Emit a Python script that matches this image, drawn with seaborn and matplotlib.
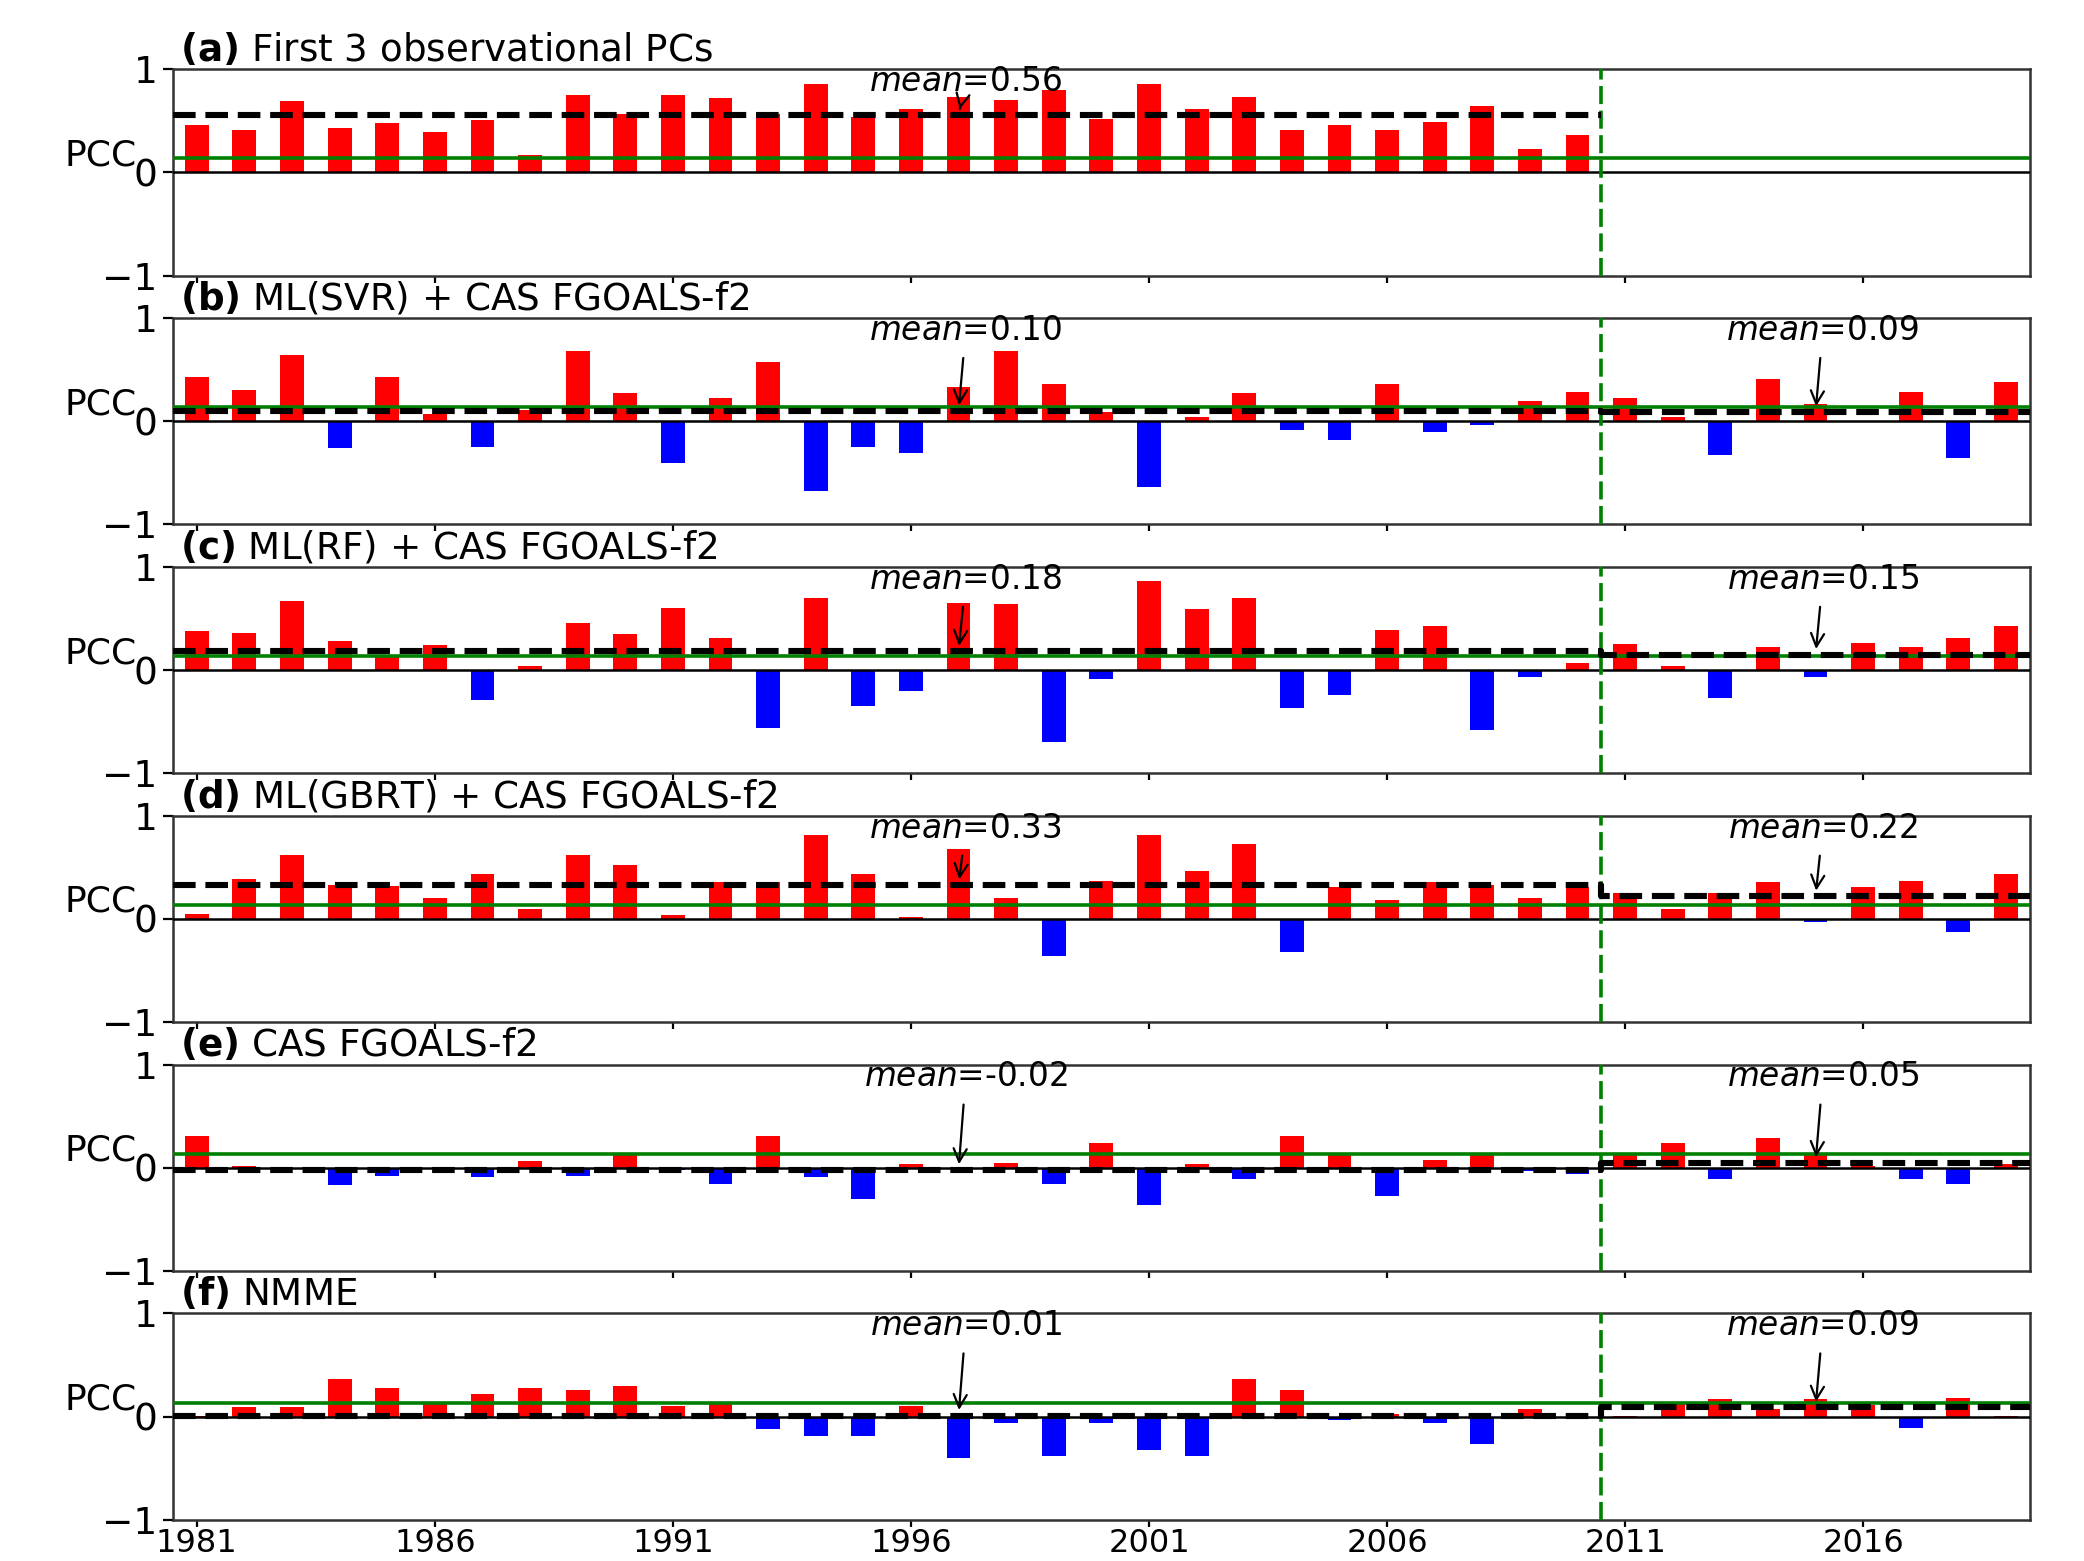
import numpy as np
import pandas as pd
import matplotlib
matplotlib.use("Agg")
import matplotlib.pyplot as plt
import seaborn as sns

# Years of hindcast (training) and forecast (test) periods
years = list(range(1981, 2020))
train_end = 2010

# Pattern correlation coefficients (PCC) per year
obs_pcs = [0.46, 0.41, 0.69, 0.43, 0.48, 0.39, 0.51, 0.17, 0.75, 0.57,
           0.75, 0.72, 0.57, 0.86, 0.54, 0.61, 0.73, 0.70, 0.80, 0.52,
           0.86, 0.61, 0.73, 0.41, 0.46, 0.41, 0.49, 0.64, 0.23, 0.36]
svr = [0.43, 0.30, 0.64, -0.26, 0.43, 0.07, -0.25, 0.11, 0.68, 0.27,
       -0.41, 0.22, 0.57, -0.68, -0.25, -0.31, 0.33, 0.68, 0.36, 0.09,
       -0.64, 0.04, 0.27, -0.09, -0.18, 0.36, -0.10, -0.04, 0.20, 0.28,
       0.22, 0.04, -0.33, 0.41, 0.17, 0.00, 0.28, -0.36, 0.38]
rf = [0.38, 0.36, 0.67, 0.28, 0.15, 0.24, -0.29, 0.04, 0.46, 0.35,
      0.60, 0.31, -0.56, 0.70, -0.35, -0.20, 0.65, 0.64, -0.70, -0.09,
      0.86, 0.59, 0.70, -0.37, -0.24, 0.39, 0.43, -0.58, -0.07, 0.07,
      0.25, 0.04, -0.27, 0.22, -0.07, 0.26, 0.22, 0.31, 0.43]
gbrt = [0.05, 0.39, 0.62, 0.33, 0.32, 0.20, 0.44, 0.10, 0.62, 0.52,
        0.04, 0.36, 0.36, 0.81, 0.44, 0.02, 0.68, 0.20, -0.36, 0.37,
        0.81, 0.46, 0.73, -0.32, 0.31, 0.18, 0.36, 0.33, 0.20, 0.31,
        0.25, 0.10, 0.25, 0.36, -0.03, 0.31, 0.37, -0.13, 0.44]
fgoals = [0.31, 0.02, -0.01, -0.17, -0.08, -0.01, -0.09, 0.07, -0.08, 0.12,
          -0.02, -0.16, 0.31, -0.09, -0.30, 0.04, -0.01, 0.05, -0.16, 0.24,
          -0.36, 0.04, -0.11, 0.31, 0.13, -0.27, 0.08, 0.12, -0.03, -0.06,
          0.13, 0.24, -0.11, 0.29, 0.12, 0.02, -0.11, -0.16, 0.04]
nmme = [0.01, 0.09, 0.09, 0.36, 0.28, 0.13, 0.22, 0.28, 0.26, 0.30,
        0.10, 0.13, -0.12, -0.19, -0.19, 0.10, -0.40, -0.06, -0.38, -0.06,
        -0.32, -0.38, 0.36, 0.26, -0.03, 0.03, -0.06, -0.27, 0.07, 0.00,
        0.01, 0.12, 0.17, 0.07, 0.17, 0.11, -0.11, 0.18, 0.01]

series = [obs_pcs, svr, rf, gbrt, fgoals, nmme]
panel_tags = ["(a)", "(b)", "(c)", "(d)", "(e)", "(f)"]
panel_names = ["First 3 observational PCs", "ML(SVR) + CAS FGOALS-f2",
               "ML(RF) + CAS FGOALS-f2", "ML(GBRT) + CAS FGOALS-f2",
               "CAS FGOALS-f2", "NMME"]
train_means = [0.56, 0.10, 0.18, 0.33, -0.02, 0.01]
test_means = [None, 0.09, 0.15, 0.22, 0.05, 0.09]
sig_level = 0.135
xticks = [1981, 1986, 1991, 1996, 2001, 2006, 2011, 2016]

plt.rcParams["font.family"] = ["DejaVu Sans"]
plt.rcParams["font.size"] = 11.5

fig, axes = plt.subplots(6, 1, figsize=(10.42, 7.805), dpi=200, sharex=True)
fig.subplots_adjust(left=0.083, right=0.974, bottom=0.0264, top=0.9557,
                    hspace=0.206)

x_lo, x_hi = years[0] - 0.5, years[-1] + 0.5
split = train_end + 0.5

for i, ax in enumerate(axes):
    vals = series[i]
    yrs = years[:len(vals)]
    df = pd.DataFrame({"year": yrs, "pcc": vals,
                       "sign": ["pos" if v >= 0 else "neg" for v in vals]})
    sns.barplot(data=df, x="year", y="pcc", hue="sign", hue_order=["pos", "neg"],
                palette={"pos": "red", "neg": "blue"}, native_scale=True,
                width=0.5, dodge=False, saturation=1, errorbar=None,
                legend=False, linewidth=0, ax=ax, zorder=2)

    ax.axhline(0, color="black", lw=0.9, zorder=3)
    ax.axhline(sig_level, color="green", lw=1.3, zorder=4)
    ax.axvline(split, color="green", lw=1.3, ls=(0, (5, 1.8)), zorder=4)

    # Mean PCC of the training period (and of the test period if present)
    m1, m2 = train_means[i], test_means[i]
    if m2 is None:
        ax.plot([x_lo, split], [m1, m1], color="black", lw=2.2, ls="--", zorder=5)
    else:
        ax.plot([x_lo, split, split, x_hi], [m1, m1, m2, m2],
                color="black", lw=2.2, ls="--", zorder=5)

    arrow = dict(arrowstyle="->", color="black", lw=0.8)
    ax.annotate(f"$mean$={m1:.2f}", xy=(1997, m1), xytext=(1997.15, 0.88),
                ha="center", va="center", fontsize=11.8, arrowprops=arrow,
                zorder=6)
    if m2 is not None:
        ax.annotate(f"$mean$={m2:.2f}", xy=(2015, m2), xytext=(2015.15, 0.88),
                    ha="center", va="center", fontsize=11.8, arrowprops=arrow,
                    zorder=6)

    ax.set_xlim(x_lo, x_hi)
    ax.set_ylim(-1, 1)
    ax.set_yticks([-1, 0, 1])
    ax.set_xticks(xticks)
    ax.set_xlabel("")
    ax.set_ylabel("PCC", rotation=0, fontsize=13, labelpad=0.5)
    ax.set_title(rf"$\bf{{{panel_tags[i]}}}$ {panel_names[i]}", loc="left",
                 pad=3, x=0.004, fontsize=13.4)
    ax.tick_params(axis="y", labelsize=13.5, length=3.5, pad=2)
    ax.tick_params(axis="x", length=2.5, pad=0.5)
    if i < len(axes) - 1:
        ax.tick_params(axis="x", labelbottom=False)
    for s in ax.spines.values():
        s.set_color("#333333")
        s.set_linewidth(0.9)

axes[-1].set_xticklabels([str(t) for t in xticks])

fig.savefig("out.png", dpi=200)
